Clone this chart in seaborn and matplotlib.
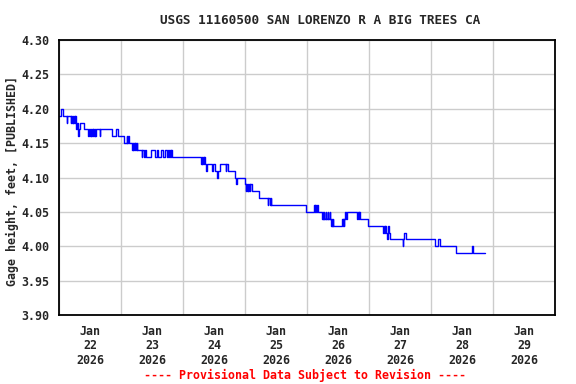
import numpy as np
import pandas as pd
import matplotlib
matplotlib.use("Agg")
import matplotlib.pyplot as plt
import seaborn as sns

# ── data: change points of the 15-min gage height record ─────────────────────
# hours after 2026-01-22 00:00, gage height (ft) from that moment on
hours = [
    0.0, 0.75, 1.5, 3.0, 3.25, 4.5, 4.75, 5.0, 5.25, 5.5, 5.75, 6.0, 6.25, 6.5,
    6.75, 7.0, 7.25, 7.5, 7.75, 8.25, 9.75, 11.25, 11.5, 12.0, 12.25, 12.5,
    12.75, 13.0, 13.25, 13.5, 13.75, 14.0, 14.25, 15.75, 16.0, 20.5, 22.0,
    22.75, 25.0, 26.25, 26.5, 26.75, 27.0, 28.25, 28.5, 28.75, 29.0, 29.25,
    29.5, 29.75, 30.0, 30.25, 32.0, 32.25, 33.0, 33.25, 33.75, 35.75, 37.25,
    38.0, 38.5, 39.5, 40.25, 41.0, 41.75, 42.0, 42.75, 43.0, 43.25, 43.5,
    43.75, 55.0, 55.25, 55.5, 55.75, 56.0, 56.25, 56.5, 57.0, 57.25, 59.25,
    59.75, 60.5, 61.25, 61.5, 62.5, 64.5, 64.75, 65.5, 68.0, 68.5, 68.75,
    72.0, 72.25, 72.5, 72.75, 73.0, 73.25, 73.5, 73.75, 74.0, 74.75, 77.25,
    80.75, 81.0, 81.75, 82.0, 82.25, 95.75, 98.75, 99.0, 99.25, 99.5, 100.0,
    100.25, 101.75, 102.0, 102.25, 102.5, 102.75, 103.25, 103.5, 104.0,
    104.25, 104.75, 105.0, 105.25, 105.5, 105.75, 106.0, 106.25, 109.5,
    109.75, 110.0, 110.25, 110.5, 110.75, 111.25, 111.5, 115.5, 115.75,
    116.0, 116.25, 116.5, 119.75, 125.5, 125.75, 126.0, 126.25, 126.5, 127.0,
    127.25, 127.5, 127.75, 128.0, 133.0, 133.25, 133.5, 134.5, 145.5, 146.75,
    147.5, 153.75, 159.75, 160.25, 164.75,
]
gage_ft = [
    4.19, 4.20, 4.19, 4.18, 4.19, 4.18, 4.19, 4.18, 4.19, 4.18, 4.19, 4.18, 4.19, 4.18,
    4.17, 4.18, 4.17, 4.16, 4.17, 4.18, 4.17, 4.16, 4.17, 4.16, 4.17, 4.16,
    4.17, 4.16, 4.17, 4.16, 4.17, 4.16, 4.17, 4.16, 4.17, 4.16, 4.17,
    4.16, 4.15, 4.16, 4.15, 4.16, 4.15, 4.14, 4.15, 4.14, 4.15, 4.14,
    4.15, 4.14, 4.15, 4.14, 4.13, 4.14, 4.13, 4.14, 4.13, 4.14, 4.13,
    4.14, 4.13, 4.14, 4.13, 4.14, 4.13, 4.14, 4.13, 4.14, 4.13, 4.14,
    4.13, 4.12, 4.13, 4.12, 4.13, 4.12, 4.13, 4.12, 4.11, 4.12, 4.11,
    4.12, 4.11, 4.10, 4.11, 4.12, 4.11, 4.12, 4.11, 4.10, 4.09, 4.10,
    4.09, 4.08, 4.09, 4.08, 4.09, 4.08, 4.09, 4.08, 4.09, 4.08, 4.07,
    4.06, 4.07, 4.06, 4.07, 4.06, 4.05, 4.06, 4.05, 4.06, 4.05, 4.06,
    4.05, 4.04, 4.05, 4.04, 4.05, 4.04, 4.05, 4.04, 4.05,
    4.04, 4.05, 4.04, 4.03, 4.04, 4.03, 4.04, 4.03, 4.04,
    4.03, 4.04, 4.03, 4.04, 4.05, 4.04, 4.05, 4.04, 4.05,
    4.04, 4.05, 4.04, 4.03, 4.02, 4.03, 4.02, 4.03, 4.02, 4.01,
    4.02, 4.03, 4.02, 4.01, 4.00, 4.01, 4.02, 4.01, 4.00, 4.01,
    4.00, 3.99, 4.00, 3.99, 3.99,
]
y_ticks = [3.90, 3.95, 4.00, 4.05, 4.10, 4.15, 4.20, 4.25, 4.30]
day_labels = ["22", "23", "24", "25", "26", "27", "28", "29"]

title = "USGS 11160500 SAN LORENZO R A BIG TREES CA"
y_label = "Gage height, feet, [PUBLISHED]"
footer = "---- Provisional Data Subject to Revision ----"

start = pd.Timestamp("2026-01-22")
df = pd.DataFrame({
    "time": start + pd.to_timedelta(hours, unit="h"),
    "gage": gage_ft,
})

# ── figure ───────────────────────────────────────────────────────────────────
sns.set_style("white")
plt.rcParams["font.family"] = ["DejaVu Sans Mono", "DejaVu Sans"]
plt.rcParams["font.weight"] = "bold"

fig = plt.figure(figsize=(5.76, 3.84), dpi=100)
ax = fig.add_axes([59 / 576, 1 - 315 / 384, 496 / 576, 275 / 384])

sns.lineplot(data=df, x="time", y="gage", ax=ax, color="#0000FF",
             linewidth=1.0, drawstyle="steps-post", legend=False)

ax.set_xlim(start, start + pd.Timedelta(days=8))
ax.set_ylim(3.90, 4.30)

# gridlines at midnight, labels centred on noon
midnights = [start + pd.Timedelta(days=d) for d in range(9)]
noons = [start + pd.Timedelta(days=d, hours=12) for d in range(8)]
ax.set_xticks(midnights)
ax.set_xticklabels([])
ax.set_xticks(noons, minor=True)
ax.set_xticklabels([f"Jan\n{d}\n2026" for d in day_labels], minor=True,
                   fontsize=8.4, fontweight="bold", linespacing=1.15)
ax.tick_params(axis="x", which="both", length=0)
ax.tick_params(axis="x", which="minor", pad=7)

ax.set_yticks(y_ticks)
ax.set_yticklabels([f"{v:.2f}" for v in y_ticks], fontsize=8.4, fontweight="bold")
ax.tick_params(axis="y", length=0, pad=7)

ax.grid(True, which="major", color="#CCCCCC", linewidth=1.0)
ax.set_axisbelow(True)
for sp in ax.spines.values():
    sp.set_color("black")
    sp.set_linewidth(1.3)

ax.set_xlabel("")
ax.set_ylabel("")
fig.text(12 / 576, 1 - 181 / 384, y_label, rotation=90, ha="center",
         va="center", fontsize=8.4, fontweight="bold")

fig.text(320 / 576, 1 - 20 / 384, title, ha="center", va="center",
         fontsize=9.2, fontweight="bold")
fig.text(305 / 576, 1 - 375 / 384, footer, ha="center", va="center",
         fontsize=8.4, fontweight="bold", color="red")

fig.savefig("out.png", dpi=100)
